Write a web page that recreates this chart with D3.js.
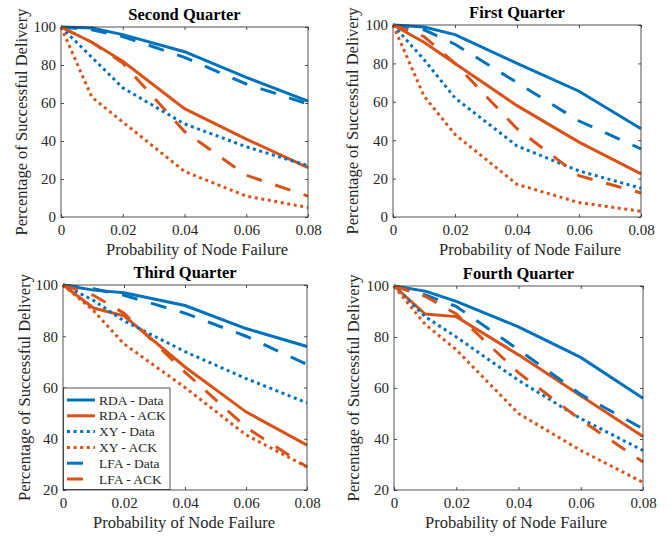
<!DOCTYPE html>
<html>
<head>
<meta charset="utf-8">
<script src="https://cdn.jsdelivr.net/npm/d3@7"></script>
<style>
    body { margin: 0; background: #fff; }
    svg, svg text { font-family: "Liberation Serif", "Times New Roman", serif; }
</style>
</head>
<body>
<div id="chart"></div>
<script>
"use strict";

// x values (probability of node failure) shared by every series
var failureProb = [0, 0.01, 0.02, 0.04, 0.06, 0.08];
var seriesNames = ["RDA - Data", "RDA - ACK", "XY - Data", "XY - ACK", "LFA - Data", "LFA - ACK"];
var xTicks = [0, 0.02, 0.04, 0.06, 0.08];
var xTickLabels = ["0", "0.02", "0.04", "0.06", "0.08"];
var yTicksFull = [0, 20, 40, 60, 80, 100];
var yTicksUpper = [20, 40, 60, 80, 100];

// each quarter: one row per series, same order as seriesNames
var secondQuarter = [
    [100, 99.5, 96, 87, 73.5, 61],
    [100, 92, 82, 57, 41, 26],
    [100, 84, 68, 49, 37, 27],
    [100, 63, 50, 24, 11, 5],
    [100, 98.5, 95, 84, 70, 59.5],
    [100, 92, 81, 45, 22, 11]
];
var firstQuarter = [
    [100, 99, 95, 80, 65.5, 46],
    [100, 91, 80, 58, 39, 22.5],
    [100, 82, 62, 37, 24, 15],
    [100, 63, 43, 17, 7.5, 3],
    [100, 97.5, 90, 70, 50, 35.5],
    [100, 94, 80, 46, 21.5, 12.5]
];
var thirdQuarter = [
    [100, 98, 97, 92, 83, 76],
    [100, 91, 88, 68, 50.5, 37.5],
    [100, 94, 86, 74, 63.5, 54],
    [100, 90, 77, 60, 41.5, 29],
    [100, 98.5, 96, 89, 80, 69],
    [100, 96, 89, 66, 44.5, 29]
];
var fourthQuarter = [
    [100, 98, 94, 84, 72, 56],
    [100, 89, 88, 73, 57, 41],
    [100, 88, 80, 63, 48, 35.5],
    [100, 85, 75, 50, 35.5, 23],
    [100, 96.5, 92, 75, 57.5, 44],
    [100, 96, 89, 66, 47.5, 31]
];

var blue = "#0072BD";
var orange = "#D95319";
var axisColor = "#262626";
var serif = "'Liberation Serif', 'Times New Roman', serif";
var seriesColor = [blue, orange, blue, orange, blue, orange];
var seriesDash = [null, null, "3,3.6", "3,3.6", "16,14", "16,14"];

var w = 672;
var h = 536;

var svg = d3.select("#chart")
    .append("svg")
    .attr("width", w)
    .attr("height", h);

var panels = [
    { title: "Second Quarter", rows: secondQuarter, yTicks: yTicksFull, yMin: 0,
      left: 61, right: 308, top: 27, bottom: 217, xLabelX: 197, yLabelX: 21, legend: false },
    { title: "First Quarter", rows: firstQuarter, yTicks: yTicksFull, yMin: 0,
      left: 393, right: 641, top: 25, bottom: 217, xLabelX: 530, yLabelX: 352, legend: false },
    { title: "Third Quarter", rows: thirdQuarter, yTicks: yTicksUpper, yMin: 20,
      left: 63, right: 307, top: 285, bottom: 490, xLabelX: 184, yLabelX: 24, legend: true },
    { title: "Fourth Quarter", rows: fourthQuarter, yTicks: yTicksUpper, yMin: 20,
      left: 394, right: 643, top: 286, bottom: 490, xLabelX: 516, yLabelX: 353, legend: false }
];

panels.forEach(function (p) {
    var x = d3.scaleLinear().domain([0, 0.08]).range([p.left, p.right]);
    var y = d3.scaleLinear().domain([p.yMin, 100]).range([p.bottom, p.top]);

    var g = svg.append("g");

    //axes with inward ticks on all four sides
    g.append("g")
        .attr("transform", "translate(0," + p.bottom + ")")
        .call(d3.axisBottom(x).tickValues(xTicks)
            .tickFormat(function (d, i) { return xTickLabels[i]; })
            .tickSizeInner(-3).tickSizeOuter(0).tickPadding(7));
    g.append("g")
        .attr("transform", "translate(0," + p.top + ")")
        .call(d3.axisTop(x).tickValues(xTicks).tickFormat("")
            .tickSizeInner(-3).tickSizeOuter(0));
    g.append("g")
        .attr("transform", "translate(" + p.left + ",0)")
        .call(d3.axisLeft(y).tickValues(p.yTicks)
            .tickSizeInner(-3).tickSizeOuter(0).tickPadding(5));
    g.append("g")
        .attr("transform", "translate(" + p.right + ",0)")
        .call(d3.axisRight(y).tickValues(p.yTicks).tickFormat("")
            .tickSizeInner(-3).tickSizeOuter(0));

    g.selectAll(".domain").remove();
    g.selectAll(".tick line").attr("stroke", axisColor).attr("stroke-width", 0.8);
    g.selectAll("g").attr("font-family", serif).attr("font-size", 15);
    g.selectAll(".tick text").attr("fill", axisColor);

    //series lines
    var line = d3.line()
        .x(function (d, i) { return x(failureProb[i]); })
        .y(function (d) { return y(d); });

    p.rows.forEach(function (row, k) {
        g.append("path")
            .datum(row)
            .attr("d", line)
            .attr("fill", "none")
            .attr("stroke", seriesColor[k])
            .attr("stroke-width", 3)
            .attr("stroke-dasharray", seriesDash[k]);
    });

    //box
    g.append("rect")
        .attr("x", p.left)
        .attr("y", p.top)
        .attr("width", p.right - p.left)
        .attr("height", p.bottom - p.top)
        .attr("fill", "none")
        .attr("stroke", axisColor)
        .attr("stroke-width", 0.8);

    //title and labels
    g.append("text")
        .attr("x", (p.left + p.right) / 2)
        .attr("y", p.top - 7)
        .attr("text-anchor", "middle")
        .attr("font-family", serif)
        .attr("font-weight", "bold")
        .attr("font-size", "16.5px")
        .attr("fill", "#000")
        .text(p.title);

    g.append("text")
        .attr("x", p.xLabelX)
        .attr("y", p.bottom + 37.5)
        .attr("text-anchor", "middle")
        .attr("font-family", serif)
        .attr("font-size", "16.5px")
        .attr("fill", axisColor)
        .text("Probability of Node Failure");

    g.append("text")
        .attr("transform", "translate(" + p.yLabelX + "," + ((p.top + p.bottom) / 2) + ") rotate(-90)")
        .attr("text-anchor", "middle")
        .attr("dominant-baseline", "central")
        .attr("font-family", serif)
        .attr("font-size", "16.5px")
        .attr("fill", axisColor)
        .text("Percentage of Successful Delivery");

    if (p.legend) {
        var lg = g.append("g");
        lg.append("rect")
            .attr("x", 63.5)
            .attr("y", 388)
            .attr("width", 106.5)
            .attr("height", 101.5)
            .attr("fill", "#fff")
            .attr("stroke", axisColor)
            .attr("stroke-width", 0.8);

        seriesNames.forEach(function (name, k) {
            var ry = 400 + k * 15.8;
            lg.append("line")
                .attr("x1", 67)
                .attr("x2", 95)
                .attr("y1", ry)
                .attr("y2", ry)
                .attr("stroke", seriesColor[k])
                .attr("stroke-width", 3)
                .attr("stroke-dasharray", seriesDash[k]);
            lg.append("text")
                .attr("x", 99)
                .attr("y", ry)
                .attr("dominant-baseline", "central")
                .attr("font-family", serif)
                .attr("font-size", "13.5px")
                .attr("fill", axisColor)
                .text(name);
        });
    }
});
</script>
</body>
</html>
